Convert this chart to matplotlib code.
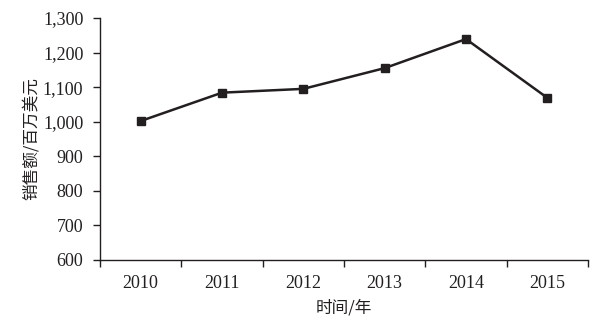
import matplotlib.pyplot as plt
from matplotlib.ticker import FuncFormatter, FixedLocator

plt.rcParams['font.family'] = ['Liberation Serif', 'Noto Sans CJK SC']

years = ['2010', '2011', '2012', '2013', '2014', '2015']
sales = [1002, 1084, 1095, 1155, 1239, 1069]
y_ticks = [600, 700, 800, 900, 1000, 1100, 1200, 1300]

ink = '#231f20'

fig = plt.figure(figsize=(6.04, 3.27), dpi=100)
ax = fig.add_axes([0.1656, 0.2049, 0.8079, 0.7401])

x = list(range(len(years)))
ax.plot(x, sales, color=ink, lw=1.8, marker='s', ms=6, mfc=ink, mec=ink)

ax.set_xlim(-0.5, len(years) - 0.5)
ax.set_ylim(600, 1300)
ax.set_yticks(y_ticks)
ax.yaxis.set_major_formatter(FuncFormatter(lambda v, p: '{:,.0f}'.format(v)))

# 类别轴：刻度线在分隔处，标签居中
ax.xaxis.set_major_locator(FixedLocator([i - 0.5 for i in range(len(years) + 1)]))
ax.xaxis.set_major_formatter(FuncFormatter(lambda v, p: ''))
ax.xaxis.set_minor_locator(FixedLocator(x))
ax.set_xticklabels(years, minor=True)
ax.tick_params(axis='x', which='minor', length=0, pad=11, labelsize=13, colors=ink)
ax.tick_params(axis='both', which='major', direction='out', length=5, width=1, colors=ink, labelsize=13)
ax.tick_params(axis='y', which='major', pad=7)

for s in ['top', 'right']:
    ax.spines[s].set_visible(False)
for s in ['left', 'bottom']:
    ax.spines[s].set_color(ink)
    ax.spines[s].set_linewidth(1)

ax.set_xlabel('时间/年', fontsize=12, color=ink, family=['Noto Sans CJK SC'], labelpad=5)
ax.set_ylabel('销售额/百万美元', fontsize=12, color=ink, family=['Noto Sans CJK SC'], labelpad=2)

plt.savefig('out.png', dpi=100)
